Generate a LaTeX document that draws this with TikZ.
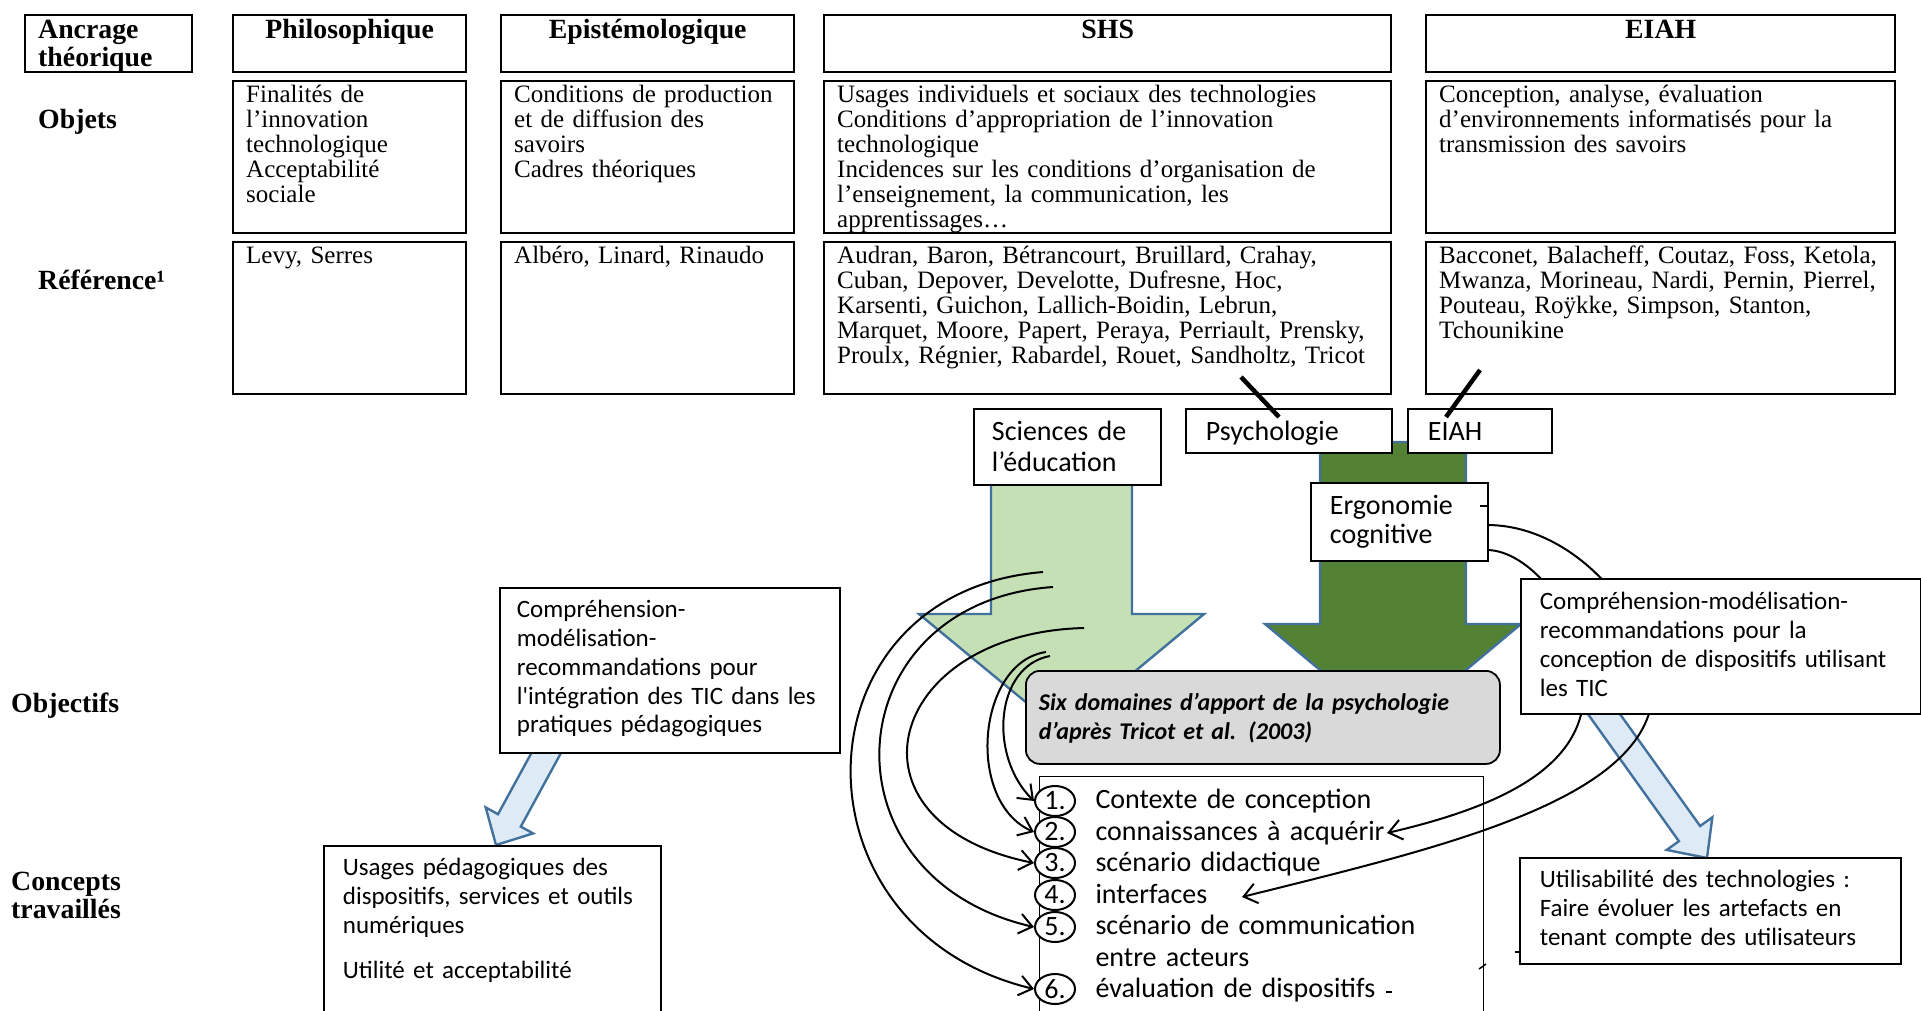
\documentclass[tikz,border=0pt]{standalone}
\usepackage{fontspec}
\setmainfont{Liberation Serif}
\newfontfamily\calibri{Carlito}
\usetikzlibrary{shapes.geometric,arrows.meta}
\definecolor{arrowedge}{RGB}{65,113,156}
\definecolor{sdegreen}{RGB}{197,224,180}
\definecolor{psygreen}{RGB}{84,130,53}
\definecolor{ticblue}{RGB}{222,235,247}
\definecolor{tricotgray}{RGB}{217,217,217}

\begin{document}
\begin{tikzpicture}[x=1pt, y=-1pt,
    cell/.style={draw, line width=2.4pt, anchor=north west, align=left, inner ysep=0pt, inner xsep=13pt,
      font=\fontsize{25}{25}\selectfont, text height=21pt, text depth=131pt},
    headcell/.style={cell, align=center, font=\bfseries\fontsize{27.8}{28}\selectfont, text height=23pt, text depth=34pt},
    rowlabel/.style={anchor=north west, inner sep=0pt, align=left, text width=160pt,
      font=\bfseries\fontsize{27.8}{28}\selectfont, text height=20pt},
    panel/.style={draw, line width=1.8pt, fill=white, anchor=north west, align=left, inner ysep=0pt,
      font=\calibri\fontsize{25}{28.7}\selectfont},
    bigpanel/.style={panel, font=\calibri\fontsize{28}{31}\selectfont},
    num/.style={draw, ellipse, line width=2pt, fill=white, minimum width=40pt, minimum height=30pt, inner sep=0pt,
      font=\calibri\fontsize{28}{28}\selectfont},
    link/.style={line width=2pt, -{Straight Barb[length=13pt,width=20pt]}},
    fat/.style={line width=2.4pt, draw=arrowedge, line join=miter},
    slash/.style={line width=4.5pt}
  ]
  \useasboundingbox (0,0) rectangle (1921,1010);
  \fill[white] (0,0) rectangle (1921,1010);

  % Big arrows
  \filldraw[fat, fill=sdegreen] (991,470) -- (1132,470) -- (1132,614) -- (1204,614) -- (1062,732) -- (919,614) -- (991,614) -- cycle;
  \filldraw[fat, fill=psygreen] (1320,442) -- (1466,442) -- (1466,624) -- (1521,624) -- (1393,731) -- (1265,624) -- (1320,624) -- cycle;
  \filldraw[fat, fill=ticblue] (544.6,728.8) -- (498,814.2) -- (485.7,807.4) -- (496,845) -- (533.1,833.4) -- (520.8,826.6) -- (567.4,741.2) -- cycle;
  \filldraw[fat, fill=ticblue] (1580,703) -- (1678.9,841.2) -- (1666.7,849.9) -- (1707,858) -- (1712.3,817.3) -- (1700.1,826) -- (1601.2,687.8) -- cycle;

  % Header row
  \node[headcell, align=left, text width=141pt] (anc) at (24,14) {Ancrage\\théorique};
  \node[headcell, text width=207pt] (philH) at (232,14) {Philosophique};
  \node[headcell, text width=267pt] (episH) at (500,14) {Epistémologique};
  \node[headcell, text width=541pt] (shsH) at (823,14) {SHS};
  \node[headcell, text width=443pt] (eiahH) at (1425,14) {EIAH};

  % Objets row
  \node[rowlabel] (objets) at (38,108) {Objets};
  \node[cell, text width=207pt] (philO) at (232,80) {Finalités de\\l’innovation\\technologique\\Acceptabilité\\sociale};
  \node[cell, text width=267pt] (episO) at (500,80) {Conditions de production\\et de diffusion des\\savoirs\\Cadres théoriques};
  \node[cell, text width=541pt] (shsO) at (823,80) {Usages individuels et sociaux des technologies\\Conditions d’appropriation de l’innovation\\technologique\\Incidences sur les conditions d’organisation de\\l’enseignement, la communication, les\\apprentissages…};
  \node[cell, text width=443pt] (eiahO) at (1425,80) {Conception, analyse, évaluation\\d’environnements informatisés pour la\\transmission des savoirs};

  % Reference row
  \node[rowlabel] (refs) at (38,269) {Référence¹};
  \node[cell, text width=207pt] (philR) at (232,241) {Levy, Serres};
  \node[cell, text width=267pt] (episR) at (500,241) {Albéro, Linard, Rinaudo};
  \node[cell, text width=541pt] (shsR) at (823,241) {Audran, Baron, Bétrancourt, Bruillard, Crahay,\\Cuban, Depover, Develotte, Dufresne, Hoc,\\Karsenti, Guichon, Lallich-Boidin, Lebrun,\\Marquet, Moore, Papert, Peraya, Perriault, Prensky,\\Proulx, Régnier, Rabardel, Rouet, Sandholtz, Tricot};
  \node[cell, text width=443pt] (eiahR) at (1425,241) {Bacconet, Balacheff, Coutaz, Foss, Ketola,\\Mwanza, Morineau, Nardi, Pernin, Pierrel,\\Pouteau, Roÿkke, Simpson, Stanton,\\Tchounikine};

  % Disciplines
  \node[bigpanel, inner xsep=18pt, text width=151pt, text height=32pt, text depth=44pt] (sci) at (973,408) {Sciences de\\l’éducation};
  \node[bigpanel, inner xsep=20pt, text width=166pt, text height=32pt, text depth=12pt] (psy) at (1185,408) {Psychologie};
  \node[bigpanel, inner xsep=20pt, text width=104pt, text height=32pt, text depth=12pt] (eiahS) at (1407,408) {EIAH};
  \node[bigpanel, inner xsep=19pt, text width=139pt, text height=32pt, text depth=46pt,
    font=\calibri\fontsize{28}{29}\selectfont] (ergo) at (1310,482) {Ergonomie\\cognitive};

  % Objectifs and concepts
  \node[rowlabel] (objectifs) at (11,692) {Objectifs};
  \node[rowlabel] (concepts) at (11,870) {Concepts\\travaillés};
  \node[panel, inner xsep=17pt, text width=306pt, text height=30pt, text depth=135pt] (compL) at (499,587)
    {Compréhension-\\modélisation-\\recommandations pour\\l\textquotesingle intégration des TIC dans les\\pratiques pédagogiques};
  \node[panel, inner xsep=19pt, text width=299pt, text height=30pt, text depth=150pt] (usages) at (323,845)
    {Usages pédagogiques des\\dispositifs, services et outils\\numériques\\[16pt]Utilité et acceptabilité};
  \node[panel, inner xsep=20pt, text width=341pt, text height=30pt, text depth=76pt] (util) at (1519,857)
    {Utilisabilité des technologies :\\Faire évoluer les artefacts en\\tenant compte des utilisateurs};
  \node[panel, fill=tricotgray, rounded corners=14pt, inner xsep=13pt, text width=448pt, text height=40pt, text depth=53pt,
    font=\calibri\bfseries\itshape\fontsize{24}{29}\selectfont] (tricot) at (1025,670)
    {Six domaines d’apport de la psychologie\\d’après Tricot et al. (2003)};

  % Six domains
  \node[bigpanel, line width=1pt, inner xsep=56pt, text width=332pt, text height=32pt, text depth=220pt,
    font=\calibri\fontsize{28}{31.5}\selectfont] (items) at (1039,776)
    {Contexte de conception\\connaissances à acquérir\\scénario didactique\\interfaces\\scénario de communication\\entre acteurs\\évaluation de dispositifs};
  \node[num] (n1) at (1055,801) {1.};
  \node[num] (n2) at (1055,832) {2.};
  \node[num] (n3) at (1055,863) {3.};
  \node[num] (n4) at (1055,895) {4.};
  \node[num] (n5) at (1055,927) {5.};
  \node[num] (n6) at (1055,989) {6.};

  % Ergonomie links
  \coordinate (g1) at (1487,525);
  \coordinate (g2) at (1487,550);
  \coordinate (fbend) at (1653,690);
  \coordinate (gbend) at (1584,690);
  \coordinate (t2) at (1387,833);
  \coordinate (t4) at (1242,897);
  \draw[link] (g1) .. controls +(90,0) and +(0,-70) .. (fbend) .. controls +(-3,110) and +(200,-50) .. (t4);
  \draw[link] (g2) .. controls +(40,0) and +(0,-80) .. (gbend) .. controls +(0,70) and +(130,-30) .. (t2);
  \node[panel, inner xsep=19pt, text width=362pt, text height=31pt, text depth=104pt] (compR) at (1520,578)
    {Compréhension-modélisation-\\recommandations pour la\\conception de dispositifs utilisant\\les TIC};

  % Sciences de l'education links
  \coordinate (s1) at (1043,572);
  \coordinate (s2) at (1053,587);
  \coordinate (s3) at (1084,628);
  \coordinate (s4) at (1046,652);
  \coordinate (s5) at (1050,656);
  \draw[link] (s1) .. controls +(-250,20) and +(-250,-60) .. (n6.west);
  \draw[link] (s2) .. controls +(-218,15) and +(-218,-50) .. (n5.west);
  \draw[link] (s3) .. controls +(-199,5) and +(-199,-40) .. (n3.west);
  \draw[link] (s4) .. controls +(-69,10) and +(-69,-30) .. (n2.west);
  \draw[link] (s5) .. controls +(-55,10) and +(-46,-45) .. (n1.west);

  % SHS and EIAH ties
  \coordinate (shsfoot) at (1241,377);
  \coordinate (psytop) at (1279,417);
  \coordinate (eiahfoot) at (1480,370);
  \coordinate (eiahtop) at (1446,417);
  \draw[slash] (shsfoot) -- (psytop);
  \draw[slash] (eiahfoot) -- (eiahtop);

  % stray marks
  \draw[line width=1.5pt] (1480,506) -- (1489,506);
  \draw[line width=1.5pt] (1386,992) -- (1392,992);
  \draw[line width=1.5pt] (1479,969) -- (1486,964);
  \draw[line width=1.5pt] (1515,952) -- (1520,952);
\end{tikzpicture}
\end{document}
